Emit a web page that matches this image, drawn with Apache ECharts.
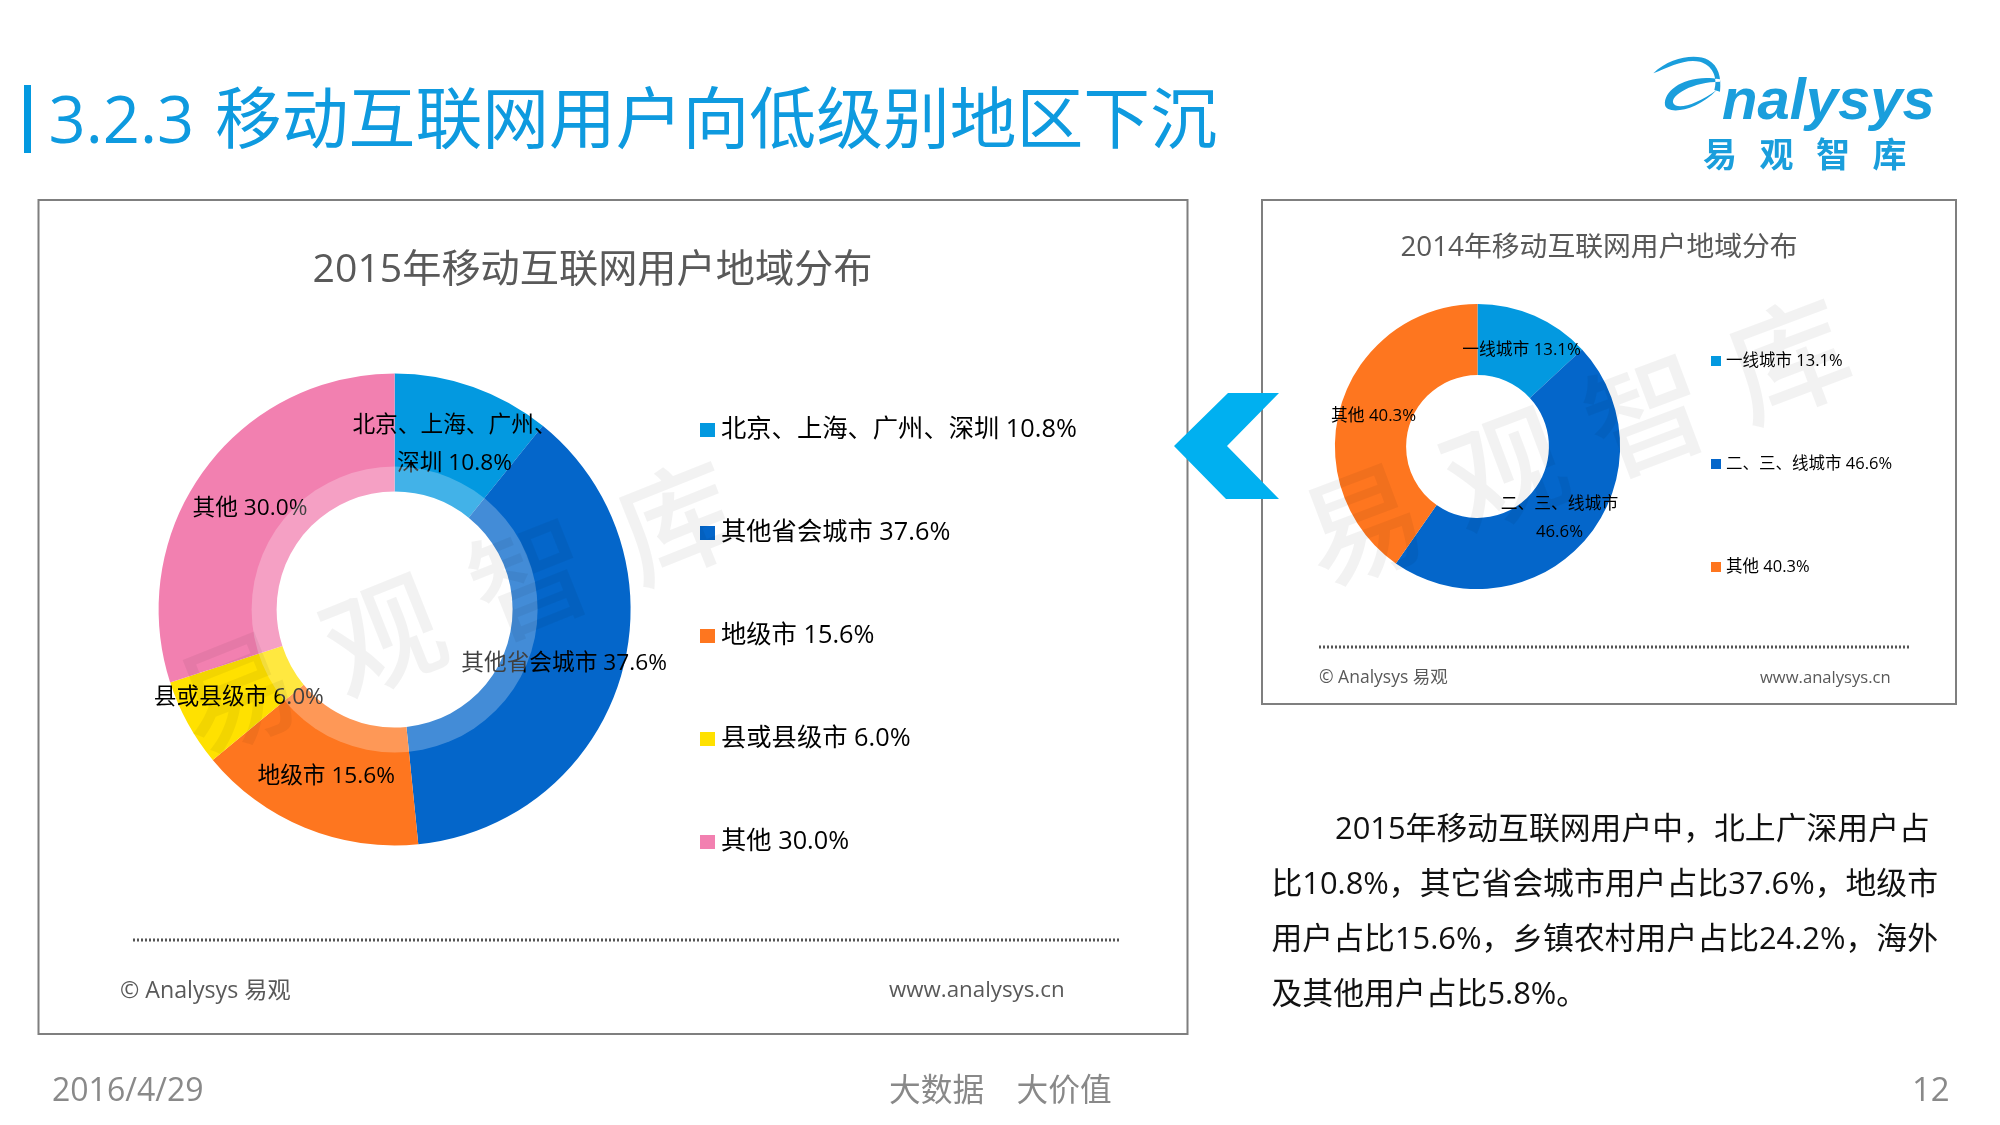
<!DOCTYPE html>
<html><head><meta charset="utf-8">
<style>html,body{margin:0;padding:0;background:#fff}#c{width:2000px;height:1125px}</style>
<script src="https://cdn.jsdelivr.net/npm/echarts@6/dist/echarts.min.js"></script>
</head><body><div id="c"></div>
<script>
const FONT = '"Open Sans","Noto Sans CJK SC",sans-serif';
const cats2015 = ['北京、上海、广州、深圳','其他省会城市','地级市','县或县级市','其他'];
const vals2015 = [10.8,37.6,15.6,6.0,30.0];
const labels2015 = ['北京、上海、广州、\n深圳 10.8%','其他省会城市 37.6%','地级市 15.6%','县或县级市 6.0%','其他 30.0%'];
const colors2015 = ['#0399E0','#0466CA','#FE761F','#FFE100','#F280B0'];
const cats2014 = ['一线城市','二、三、线城市','其他'];
const vals2014 = [13.1,46.6,40.3];
const labels2014 = ['一线城市 13.1%','二、三、线城市\n46.6%','其他 40.3%'];
const colors2014 = ['#0399E0','#0466CA','#FE761F'];
const title2015 = '2015年移动互联网用户地域分布';
const title2014 = '2014年移动互联网用户地域分布';
const pageNo = '3.2.3';
const pageTitle = '移动互联网用户向低级别地区下沉';
const bodyLines = ['2015年移动互联网用户中，北上广深用户占','比10.8%，其它省会城市用户占比37.6%，地级市','用户占比15.6%，乡镇农村用户占比24.2%，海外','及其他用户占比5.8%。'];
const watermarkChars = ['易','观','智','库'];
const logoChars = ['易','观','智','库'];

const nm = (c,v)=>c+' '+v.toFixed(1)+'%';
const names2015 = cats2015.map((c,i)=>nm(c,vals2015[i]));
const names2014 = cats2014.map((c,i)=>nm(c,vals2014[i]));

echarts.graphic.registerShape('logoSwoosh',echarts.graphic.extendShape({
  shape:{},
  buildPath(ctx){
    ctx.moveTo(100,100);
    ctx.bezierCurveTo(150,50,230,40,265,60);
    ctx.bezierCurveTo(295,78,305,110,300,155);
    ctx.lineTo(283,150);
    ctx.bezierCurveTo(295,110,275,75,240,65);
    ctx.bezierCurveTo(195,55,150,80,100,100);
    ctx.closePath();
    ctx.moveTo(300,118);
    ctx.bezierCurveTo(200,100,130,150,135,195);
    ctx.bezierCurveTo(140,225,230,215,290,150);
    ctx.bezierCurveTo(230,195,170,210,160,190);
    ctx.bezierCurveTo(150,165,220,125,300,125);
    ctx.closePath();
  }
}));

function donut(names,vals,labels,colors,center,radius,fs,lh,nudge){
  return {type:'pie',center,radius,startAngle:90,clockwise:true,silent:true,avoidLabelOverlap:false,z:2,
    labelLine:{show:false},
    labelLayout:p=>({dx:nudge[p.dataIndex][0],dy:nudge[p.dataIndex][1]}),
    label:{show:true,position:'inside',color:'#000',fontFamily:FONT,fontSize:fs,lineHeight:lh},
    data:names.map((n,i)=>({name:n,value:vals[i],itemStyle:{color:colors[i]},label:{formatter:labels[i]}}))};
}
const t=(text,x,y,size,fill,extra)=>({type:'text',z:(extra&&extra.z)||10,rotation:(extra&&extra.rotation)||0,x,y,silent:true,
  style:{text,fill,fontSize:size,fontFamily:(extra&&extra.f)||FONT,fontStyle:(extra&&extra.s)||'normal',fontWeight:(extra&&extra.w)||'normal',align:(extra&&extra.align)||'left',verticalAlign:'middle'}});
const wm=(x0,y0,dx,dy,size,rot)=>watermarkChars.map((c,i)=>t(c,x0+i*dx,y0+i*dy,size,'rgba(0,0,0,0.05)',{z:100,rotation:rot,align:'center',f:'"Noto Sans CJK SC",sans-serif',w:500}));

const graphic=[
  {type:'rect',z:0,silent:true,shape:{x:38.5,y:200,width:1149,height:834},style:{fill:'#fff',stroke:'#7f7f7f',lineWidth:2}},
  {type:'rect',z:0,silent:true,shape:{x:1262,y:200,width:694,height:504},style:{fill:'#fff',stroke:'#7f7f7f',lineWidth:2}},
  {type:'rect',z:10,silent:true,shape:{x:24,y:85,width:7,height:68},style:{fill:'#0399E0'}},
  t(pageNo,48.5,124,65,'#0E9ADF'),
  t(pageTitle,215,124,66.8,'#0E9ADF'),
  {type:'polygon',z:50,silent:true,shape:{points:[[1174,446],[1228,393],[1279,393],[1227,446],[1279,499],[1226,499]]},style:{fill:'#00B0F0'}},
  {type:'line',z:10,silent:true,shape:{x1:133,y1:940,x2:1119,y2:940},style:{stroke:'#555',lineWidth:3,lineDash:[2,2]}},
  {type:'line',z:10,silent:true,shape:{x1:1319,y1:647,x2:1911,y2:647},style:{stroke:'#555',lineWidth:3,lineDash:[2,2]}},
  t('© Analysys 易观',120,991,23.2,'#595959'),
  t('www.analysys.cn',889,991,22.3,'#595959'),
  t('© Analysys 易观',1319,678,17.5,'#595959'),
  t('www.analysys.cn',1760,678,16.6,'#595959'),
  t('2016/4/29',52,1092,32,'#898989'),
  t('大数据',889,1092,31.7,'#898989'),
  t('大价值',1016.5,1092,31.7,'#898989'),
  t('12',1912,1092,33,'#898989'),
  ...bodyLines.map((l,i)=>t(l,i===0?1335:1271.5,830.5+i*54.9,30.85,'#111')),
  ...wm(236,692,147,-57,118,0.38),
  ...wm(1362,524,142,-55,120,0.36),
  ...logoChars.map((c,i)=>t(c,1720+i*56.5,154,34,'#1A9EDC',{align:'center',w:'bold',f:'"Noto Sans CJK SC",sans-serif'})),
  t('nalysys',1722,103,58,'#1A9EDC',{w:'bold',s:'italic',f:'"Liberation Sans",sans-serif'}),
  {type:'logoSwoosh',z:10,silent:true,x:1620,y:40,scaleX:1/3,scaleY:1/3,style:{fill:'#1A9EDC'}}
];

const chart=echarts.init(document.getElementById('c'),null,{renderer:'canvas'});
chart.setOption({
  animation:false,backgroundColor:'#fff',
  title:[
    {text:title2015,left:592.5,top:270.5,textAlign:'center',textVerticalAlign:'middle',padding:0,textStyle:{color:'#595959',fontSize:39.2,fontWeight:'normal',fontFamily:FONT}},
    {text:title2014,left:1599,top:248.5,textAlign:'center',textVerticalAlign:'middle',padding:0,textStyle:{color:'#595959',fontSize:27.8,fontWeight:'normal',fontFamily:FONT}}
  ],
  legend:[
    {orient:'vertical',left:700,top:417,padding:0,itemGap:77,itemWidth:15,itemHeight:14,icon:'rect',selectedMode:false,data:names2015,
      textStyle:{color:'#000',fontSize:25.3,lineHeight:26,fontFamily:FONT,padding:[0,0,0,1]}},
    {orient:'vertical',left:1711,top:352.5,padding:0,itemGap:86,itemWidth:10,itemHeight:10,icon:'rect',selectedMode:false,data:names2014,
      textStyle:{color:'#000',fontSize:16.5,lineHeight:17,fontFamily:FONT}}
  ],
  series:[
    donut(names2015,vals2015,labels2015,colors2015,[394.6,609.5],[118,236],22.7,38,[[0,5],[-3,3],[0,1],[2,1],[1,5]]),
    {type:'pie',center:[394.6,609.5],radius:[0,143],silent:true,z:3,label:{show:false},labelLine:{show:false},
      data:[{name:'ring',value:vals2015.reduce((a,b)=>a+b,0),itemStyle:{color:'rgba(255,255,255,0.25)'}}]},
    donut(names2014,vals2014,labels2014,colors2014,[1477.5,446.5],[71.4,142.6],16.8,28,[[0,5],[-1,0],[1,3]])
  ],
  graphic:{elements:graphic}
});
</script></body></html>
